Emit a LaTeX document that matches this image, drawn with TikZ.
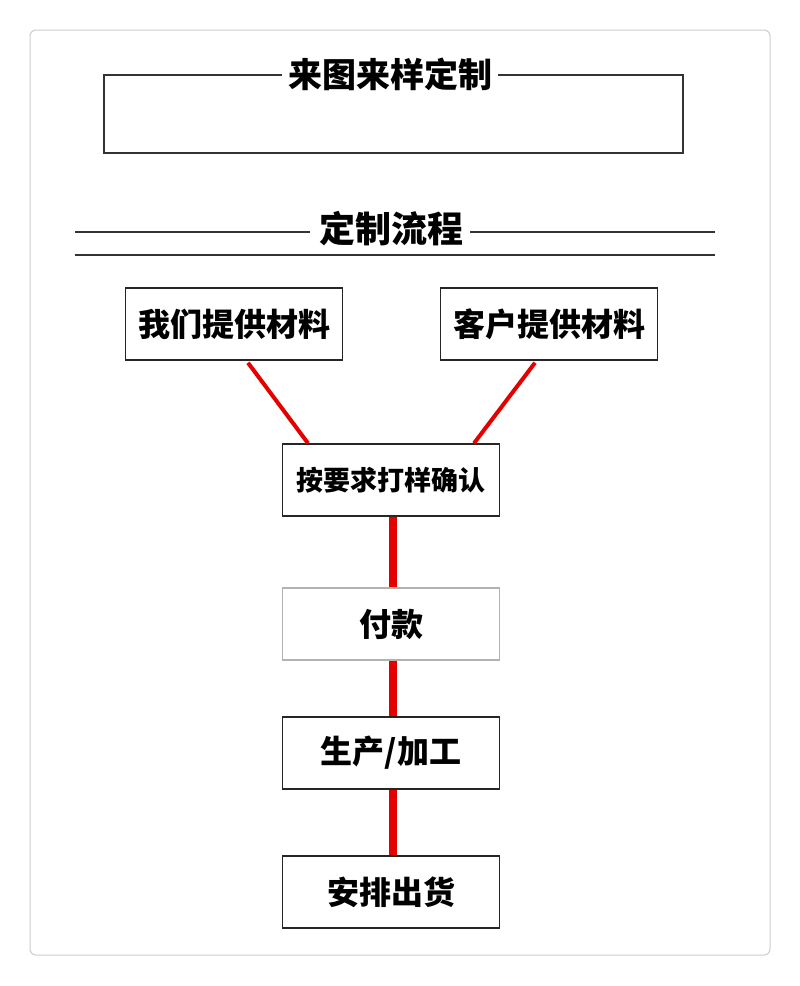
\documentclass[tikz,border=0pt]{standalone}
\usepackage{fontspec}
\setmainfont{Noto Sans CJK SC}
\begin{document}
\begin{tikzpicture}[x=1pt,y=-1pt,
  box/.style={draw=black!85,line width=1.5pt,minimum width=217pt,minimum height=72pt,inner sep=0pt,font=\bfseries\fontsize{32}{34}\selectfont},
  red/.style={draw=red!90!black,line width=8pt}]
\useasboundingbox (0,0) rectangle (800,986);
\draw[black!20,line width=1pt,rounded corners=6pt] (30,30) rectangle (770,955);
\draw[black!80,line width=1.3pt] (104,75) rectangle (683,153);
\node[fill=white,inner xsep=6pt,font=\bfseries\fontsize{34}{36}\selectfont] (t1) at (390,74) {来图来样定制};
\draw[black!80,line width=1.5pt] (75,232) -- (310,232) (470,232) -- (715,232) (75,255) -- (715,255);
\node[font=\bfseries\fontsize{36}{38}\selectfont] (t2) at (391,229) {定制流程};
\node[box] (b1) at (234,324) {我们提供材料};
\node[box] (b2) at (549,324) {客户提供材料};
\node[box,font=\bfseries\fontsize{27}{30}\selectfont] (b3) at (391,480) {按要求打样确认};
\node[box,draw=black!30] (b4) at (391,624) {付款};
\node[box] (b5) at (391,753) {生产/加工};
\node[box] (b6) at (391,892) {安排出货};
\draw[red!90!black,line width=4pt] (b1.south)++(14,2) coordinate (c1) -- ([xshift=-83pt]b3.north);
\draw[red!90!black,line width=4pt] (b2.south)++(-14,2) coordinate (c2) -- ([xshift=83pt]b3.north);
\draw[red] ([xshift=2pt]b3.south) -- ([xshift=2pt]b4.north);
\draw[red] ([xshift=2pt]b4.south) -- ([xshift=2pt]b5.north);
\draw[red] ([xshift=2pt]b5.south) -- ([xshift=2pt]b6.north);
\end{tikzpicture}
\end{document}
